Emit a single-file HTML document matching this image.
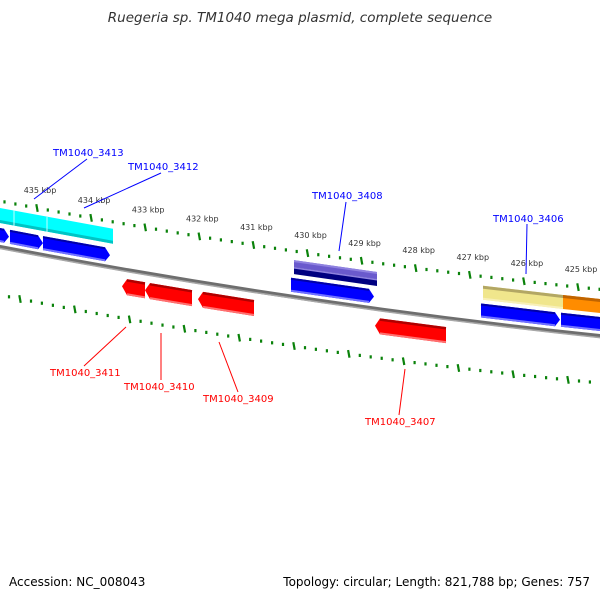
<!DOCTYPE html>
<html><head><meta charset="utf-8"><style>
html,body{margin:0;padding:0;background:#fff;}
svg{display:block;}
</style></head><body>
<svg width="600" height="600" viewBox="0 0 600 600" xmlns="http://www.w3.org/2000/svg" font-family="DejaVu Sans, Liberation Sans, sans-serif">
<defs>
<rect id="d" x="-1.1" y="-1.6" width="2.2" height="3.2" fill="#0a820a"/>
<line id="m" x1="-0.7" y1="-3.8" x2="0.7" y2="3.8" stroke="#0a820a" stroke-width="2.2"/>
</defs>
<rect width="600" height="600" fill="#fff"/>
<text x="300" y="22" text-anchor="middle" font-size="13.5" font-style="italic" fill="#333">Ruegeria sp. TM1040 mega plasmid, complete sequence</text>

<!-- top tick row -->
<g>
<use href="#d" x="4.5" y="201.9"/><use href="#d" x="15.4" y="204"/><use href="#d" x="26.2" y="206"/>
<use href="#m" x="37" y="208"/><use href="#d" x="47.8" y="210"/><use href="#d" x="58.6" y="212"/><use href="#d" x="69.5" y="214"/><use href="#d" x="80.3" y="216"/>
<use href="#m" x="91.1" y="217.9"/><use href="#d" x="101.9" y="219.9"/><use href="#d" x="112.7" y="221.8"/><use href="#d" x="123.6" y="223.7"/><use href="#d" x="134.4" y="225.6"/>
<use href="#m" x="145.2" y="227.4"/><use href="#d" x="156" y="229.2"/><use href="#d" x="166.8" y="231.1"/><use href="#d" x="177.7" y="232.9"/><use href="#d" x="188.5" y="234.7"/>
<use href="#m" x="199.3" y="236.4"/><use href="#d" x="210.1" y="238.2"/><use href="#d" x="220.9" y="239.9"/><use href="#d" x="231.8" y="241.6"/><use href="#d" x="242.6" y="243.3"/>
<use href="#m" x="253.4" y="245"/><use href="#d" x="264.2" y="246.7"/><use href="#d" x="275" y="248.3"/><use href="#d" x="285.9" y="249.9"/><use href="#d" x="296.7" y="251.5"/>
<use href="#m" x="307.5" y="253.1"/><use href="#d" x="318.3" y="254.7"/><use href="#d" x="329.1" y="256.3"/><use href="#d" x="340" y="257.8"/><use href="#d" x="350.8" y="259.3"/>
<use href="#m" x="361.6" y="260.8"/><use href="#d" x="372.4" y="262.3"/><use href="#d" x="383.2" y="263.8"/><use href="#d" x="394.1" y="265.2"/><use href="#d" x="404.9" y="266.7"/>
<use href="#m" x="415.7" y="268.1"/><use href="#d" x="426.5" y="269.5"/><use href="#d" x="437.3" y="270.8"/><use href="#d" x="448.2" y="272.2"/><use href="#d" x="459" y="273.5"/>
<use href="#m" x="469.8" y="274.9"/><use href="#d" x="480.6" y="276.2"/><use href="#d" x="491.4" y="277.4"/><use href="#d" x="502.3" y="278.7"/><use href="#d" x="513.1" y="280"/>
<use href="#m" x="523.9" y="281.2"/><use href="#d" x="534.7" y="282.4"/><use href="#d" x="545.5" y="283.6"/><use href="#d" x="556.4" y="284.8"/><use href="#d" x="567.2" y="286"/>
<use href="#m" x="578" y="287.1"/><use href="#d" x="588.8" y="288.2"/><use href="#d" x="599.6" y="289.3"/>
</g>
<g font-size="8" fill="#333" text-anchor="middle">
<text x="40" y="193">435 kbp</text><text x="94.1" y="203">434 kbp</text><text x="148.2" y="212.4">433 kbp</text>
<text x="202.3" y="221.4">432 kbp</text><text x="256.4" y="230">431 kbp</text><text x="310.5" y="238.1">430 kbp</text>
<text x="364.6" y="245.8">429 kbp</text><text x="418.7" y="253.1">428 kbp</text><text x="472.8" y="259.9">427 kbp</text>
<text x="526.9" y="266.2">426 kbp</text><text x="581" y="272.1">425 kbp</text>
</g>

<!-- bottom tick row -->
<g>
<use href="#d" x="9" y="296.8"/>
<use href="#m" x="20" y="299"/><use href="#d" x="31" y="301.1"/><use href="#d" x="41.9" y="303.2"/><use href="#d" x="52.9" y="305.3"/><use href="#d" x="63.8" y="307.4"/>
<use href="#m" x="74.8" y="309.4"/><use href="#d" x="85.8" y="311.5"/><use href="#d" x="96.7" y="313.5"/><use href="#d" x="107.7" y="315.5"/><use href="#d" x="118.6" y="317.4"/>
<use href="#m" x="129.6" y="319.4"/><use href="#d" x="140.6" y="321.3"/><use href="#d" x="151.5" y="323.2"/><use href="#d" x="162.5" y="325.1"/><use href="#d" x="173.4" y="327"/>
<use href="#m" x="184.4" y="328.8"/><use href="#d" x="195.4" y="330.6"/><use href="#d" x="206.3" y="332.4"/><use href="#d" x="217.3" y="334.2"/><use href="#d" x="228.2" y="336"/>
<use href="#m" x="239.2" y="337.7"/><use href="#d" x="250.2" y="339.4"/><use href="#d" x="261.1" y="341.1"/><use href="#d" x="272.1" y="342.8"/><use href="#d" x="283" y="344.4"/>
<use href="#m" x="294" y="346"/><use href="#d" x="305" y="347.7"/><use href="#d" x="315.9" y="349.3"/><use href="#d" x="326.9" y="350.8"/><use href="#d" x="337.8" y="352.4"/>
<use href="#m" x="348.8" y="353.9"/><use href="#d" x="359.8" y="355.4"/><use href="#d" x="370.7" y="356.9"/><use href="#d" x="381.7" y="358.3"/><use href="#d" x="392.6" y="359.8"/>
<use href="#m" x="403.6" y="361.2"/><use href="#d" x="414.6" y="362.6"/><use href="#d" x="425.5" y="363.9"/><use href="#d" x="436.5" y="365.3"/><use href="#d" x="447.4" y="366.6"/>
<use href="#m" x="458.4" y="368"/><use href="#d" x="469.4" y="369.2"/><use href="#d" x="480.3" y="370.5"/><use href="#d" x="491.3" y="371.8"/><use href="#d" x="502.2" y="373"/>
<use href="#m" x="513.2" y="374.2"/><use href="#d" x="524.2" y="375.4"/><use href="#d" x="535.1" y="376.5"/><use href="#d" x="546.1" y="377.7"/><use href="#d" x="557" y="378.8"/>
<use href="#m" x="568" y="379.9"/><use href="#d" x="579" y="381"/><use href="#d" x="589.9" y="382"/>
</g>

<!-- backbone -->
<path d="M-5,246 Q300,304.5 605,336.6" fill="none" stroke="#6e6e6e" stroke-width="4"/>
<path d="M-5,247.5 Q300,306 605,338.1" fill="none" stroke="#a8a8a8" stroke-width="1.5"/>

<!-- cyan -->
<polygon points="0,208 113,228.7 113,243.7 0,223" fill="#00ffff"/>
<polygon points="0,220 113,240.7 113,243.7 0,223" fill="#00c4c4"/>
<line x1="14" y1="210.6" x2="14" y2="225.6" stroke="#c0ffff" stroke-width="1"/>
<line x1="47" y1="216.9" x2="47" y2="231.9" stroke="#c0ffff" stroke-width="1"/>

<!-- blue arrows -->
<g fill="#0000ff">
<polygon points="-10,226.1 4,228.8 9,236.7 4,242.8 -10,240.1"/>
<polygon points="10,229.9 38,235.2 43,243.1 38,249.2 10,243.9"/>
<polygon points="43,236.1 105,247.3 110,255.2 105,261.3 43,250.1"/>
<polygon points="291,277.7 369,288.9 374,296.6 369,302.9 291,291.7"/>
<polygon points="481,303.5 555,312.2 560,319.7 555,326.2 481,317.5"/>
<polygon points="561,312.8 610,318.1 610,332.1 561,326.8"/>
</g>
<g stroke="#0000a8" stroke-width="2">
<line x1="-10" y1="227.1" x2="4" y2="229.8"/><line x1="10" y1="230.9" x2="38" y2="236.2"/>
<line x1="43" y1="237.1" x2="105" y2="248.3"/><line x1="291" y1="278.7" x2="369" y2="289.9"/>
<line x1="481" y1="304.5" x2="555" y2="313.2"/><line x1="561" y1="313.8" x2="610" y2="319.1"/>
</g>
<g stroke="#7070ff" stroke-width="2">
<line x1="-10" y1="239.1" x2="4" y2="241.8"/><line x1="10" y1="242.9" x2="38" y2="248.2"/>
<line x1="43" y1="249.1" x2="105" y2="260.3"/><line x1="291" y1="290.7" x2="369" y2="301.9"/>
<line x1="481" y1="316.5" x2="555" y2="325.2"/><line x1="561" y1="325.8" x2="610" y2="331.1"/>
</g>

<!-- purple / navy -->
<polygon points="294,260.1 377,272 377,279 294,267.1" fill="#6a5acd"/>
<polygon points="294,260.1 377,272 377,274 294,262.1" fill="#8f82e0"/>
<polygon points="294,267.1 377,279 377,286 294,274.1" fill="#000080"/>
<polygon points="294,267.1 377,279 377,280.5 294,268.6" fill="#8f82e0"/>

<!-- khaki / orange -->
<polygon points="483,285.7 563,295.05 563,309.05 483,299.7" fill="#f0e68c"/>
<polygon points="483,285.7 563,295.05 563,298.05 483,288.7" fill="#b3a764"/>
<polygon points="483,297.7 563,307.05 563,309.05 483,299.7" fill="#f8f0b8"/>
<polygon points="563,295.05 605,299.6 605,313.6 563,309.05" fill="#ff8c00"/>
<polygon points="563,295.05 605,299.6 605,302.6 563,298.05" fill="#c06400"/>

<!-- red arrows -->
<g fill="#ff0000">
<polygon points="122,286.3 127,279.2 145,282.3 145,298.3 127,295.2"/>
<polygon points="145,290.3 150,283.1 192,290.1 192,306.1 150,299.1"/>
<polygon points="198,299.1 203,291.9 254,300 254,316 203,307.9"/>
<polygon points="375,325.7 380,318.4 446,327.1 446,343.1 380,334.4"/>
</g>
<g stroke="#b00000" stroke-width="2.5">
<line x1="127" y1="280.4" x2="145" y2="283.5"/><line x1="150" y1="284.3" x2="192" y2="291.3"/>
<line x1="203" y1="293.1" x2="254" y2="301.2"/><line x1="380" y1="319.6" x2="446" y2="328.3"/>
</g>
<g stroke="#ff7070" stroke-width="2">
<line x1="127" y1="294.2" x2="145" y2="297.3"/><line x1="150" y1="298.1" x2="192" y2="305.1"/>
<line x1="203" y1="306.9" x2="254" y2="315"/><line x1="380" y1="333.4" x2="446" y2="342.1"/>
</g>

<!-- labels -->
<g stroke="#0000ff" stroke-width="1">
<line x1="87" y1="159" x2="34" y2="199"/>
<line x1="161" y1="173" x2="84" y2="208"/>
<line x1="346" y1="202" x2="339" y2="251"/>
<line x1="527" y1="224" x2="526" y2="274"/>
</g>
<g font-size="10" fill="#0000ff">
<text x="53" y="156">TM1040_3413</text>
<text x="128" y="170">TM1040_3412</text>
<text x="312" y="199">TM1040_3408</text>
<text x="493" y="222">TM1040_3406</text>
</g>
<g stroke="#ff0000" stroke-width="1">
<line x1="126" y1="327" x2="84" y2="366"/>
<line x1="161" y1="333" x2="161" y2="380"/>
<line x1="219" y1="342" x2="238" y2="392"/>
<line x1="405" y1="369" x2="399" y2="415"/>
</g>
<g font-size="10" fill="#ff0000">
<text x="50" y="376">TM1040_3411</text>
<text x="124" y="390">TM1040_3410</text>
<text x="203" y="402">TM1040_3409</text>
<text x="365" y="425">TM1040_3407</text>
</g>

<text x="9" y="586" font-size="12" fill="#000">Accession: NC_008043</text>
<text x="590" y="586" font-size="12" fill="#000" text-anchor="end">Topology: circular; Length: 821,788 bp; Genes: 757</text>
</svg>
</body></html>
